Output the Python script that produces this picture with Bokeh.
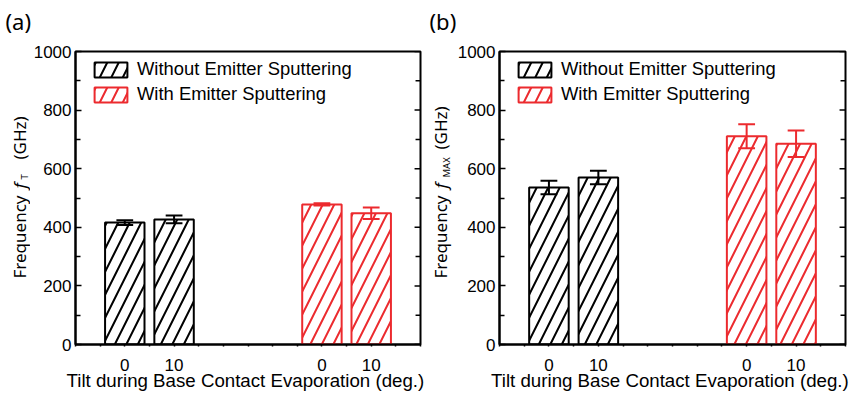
import math
from bokeh.plotting import figure
from bokeh.models import (LinearAxis, FixedTicker, Label, Range1d, Legend,
                          LegendItem, ColumnDataSource)
from bokeh.layouts import row, column
from bokeh.embed import file_html
from bokeh.resources import INLINE

# ---------------- data ----------------
tilt_labels = ["0", "10"]
pos_without = [1, 2]
pos_with = [5, 6]
y_ticks = [0, 200, 400, 600, 800, 1000]
y_minor = [100, 300, 500, 700, 900]
series_names = ["Without Emitter Sputtering", "With Emitter Sputtering"]
x_title = "Tilt during Base Contact Evaporation  (deg.)"
panel_letters = ["(a)", "(b)"]

ft_without = [416, 427]
ft_without_err = [8, 13]
ft_with = [478, 448]
ft_with_err = [4, 20]

fmax_without = [536, 570]
fmax_without_err = [23, 23]
fmax_with = [711, 685]
fmax_with_err = [41, 45]

BLACK = "#000000"
RED = "#EC2A2E"
TICK_FONT = "Liberation Sans"
LABEL_FONT = "Noto Sans"

X0, X1 = 0, 7
Y0, Y1 = 0, 1000
W_TOTAL = 855
STRIP_H = 40
H = 399 - STRIP_H
TOP, BOTTOM = 11, 55
FRAME_H = H - TOP - BOTTOM


def bare_fig(width, height):
    q = figure(width=width, height=height, output_backend="svg", toolbar_location=None,
               title=None, x_range=Range1d(0, width), y_range=Range1d(0, height),
               min_border_left=0, min_border_right=0, min_border_top=0, min_border_bottom=0,
               x_axis_location=None, y_axis_location=None)
    if "frame_align" in q.properties():
        q.frame_align = False
    q.grid.visible = False
    q.outline_line_color = None
    q.background_fill_color = "white"
    q.border_fill_color = "white"
    return q


def make_panel(wo, wo_err, wi, wi_err, width, bl, br):
    p = figure(width=width, height=H, output_backend="svg", toolbar_location=None,
               title=None, x_range=Range1d(X0, X1), y_range=Range1d(Y0, Y1),
               min_border_left=bl, min_border_right=br,
               min_border_top=TOP, min_border_bottom=BOTTOM,
               x_axis_location=None, y_axis_location=None)
    p.grid.visible = False
    p.outline_line_color = "black"
    p.outline_line_width = 2
    p.background_fill_color = "white"
    p.border_fill_color = "white"
    fw = width - bl - br

    left = LinearAxis(ticker=FixedTicker(ticks=y_ticks, minor_ticks=y_minor))
    bottom = LinearAxis(ticker=FixedTicker(ticks=pos_without + pos_with,
                                           minor_ticks=[i * 0.5 for i in range(0, 15)]))
    for ax in (left, bottom):
        ax.axis_line_width = 2
        ax.major_tick_line_width = 1.5
        ax.minor_tick_line_width = 1.5
        ax.major_label_text_font = TICK_FONT
        ax.major_label_text_font_size = "17px"
        ax.major_label_text_color = "black"
    left.major_tick_in = 6
    left.major_tick_out = 0
    left.minor_tick_in = 5
    left.minor_tick_out = 0
    left.major_label_standoff = 4
    bottom.major_tick_in = 0
    bottom.major_tick_out = 0
    bottom.minor_tick_in = 0
    bottom.minor_tick_out = 2
    bottom.major_label_standoff = 12
    overrides = {pos: lab for pos, lab in zip(pos_without, tilt_labels)}
    overrides.update({pos: lab for pos, lab in zip(pos_with, tilt_labels)})
    bottom.major_label_overrides = overrides
    bottom.axis_label = x_title
    bottom.axis_label_text_font = TICK_FONT
    bottom.axis_label_text_font_size = "18.7px"
    bottom.axis_label_text_font_style = "normal"
    bottom.axis_label_text_color = "black"
    bottom.axis_label_standoff = -4
    p.add_layout(left, "left")
    p.add_layout(bottom, "below")

    # inward ticks on the right frame edge
    tick_len = (X1 - X0) * 6 / fw
    minor_len = (X1 - X0) * 5 / fw
    p.segment(x0=[X1] * len(y_ticks), y0=y_ticks, x1=[X1 - tick_len] * len(y_ticks), y1=y_ticks,
              line_color="black", line_width=1.5)
    p.segment(x0=[X1] * len(y_minor), y0=y_minor, x1=[X1 - minor_len] * len(y_minor), y1=y_minor,
              line_color="black", line_width=1.5)

    items = []
    for pos, vals, errs, col, name in ((pos_without, wo, wo_err, BLACK, series_names[0]),
                                        (pos_with, wi, wi_err, RED, series_names[1])):
        src = ColumnDataSource(dict(
            x=pos, top=vals,
            lo=[v - e for v, e in zip(vals, errs)],
            hi=[v + e for v, e in zip(vals, errs)],
            xl=[x - 0.17 for x in pos], xr=[x + 0.17 for x in pos]))
        r = p.vbar(x="x", top="top", width=0.8, source=src,
                   fill_color="white", fill_alpha=0,
                   line_color=col, line_width=2,
                   hatch_pattern="/", hatch_color=col, hatch_scale=23, hatch_weight=2)
        p.segment(x0="x", y0="lo", x1="x", y1="hi", source=src, line_color=col, line_width=2)
        p.segment(x0="xl", y0="hi", x1="xr", y1="hi", source=src, line_color=col, line_width=2)
        p.segment(x0="xl", y0="lo", x1="xr", y1="lo", source=src, line_color=col, line_width=2)
        items.append(LegendItem(label=name, renderers=[r]))

    legend = Legend(items=items, location=(15, FRAME_H - 10 - 44), padding=0, margin=0, spacing=3,
                    glyph_width=41, glyph_height=19, label_standoff=6,
                    label_text_font=TICK_FONT, label_text_font_size="18.4px",
                    label_text_color="black",
                    border_line_color=None, background_fill_alpha=0)
    p.add_layout(legend, "center")
    return p


def ylabel_fig(width, sub, main_x, sub_x, anchors):
    """Rotated y-axis title 'Frequency f_sub (GHz)'; anchors are page y positions."""
    q = bare_fig(width, H)
    ang = math.pi / 2
    pieces = [("Frequency", main_x, "17px", "normal"),
              ("f", main_x, "17px", "italic"),
              (sub, sub_x, "9.5px", "normal"),
              ("(GHz)", main_x, "17px", "normal")]
    for (txt, x, size, style), page_y in zip(pieces, anchors):
        q.add_layout(Label(x=x, y=399 - page_y, angle=ang, text=txt, text_font=LABEL_FONT,
                           text_font_size=size, text_font_style=style,
                           text_baseline="middle", text_align="left",
                           text_color="black"))
    return q


strip = bare_fig(W_TOTAL, STRIP_H)
for letter, lx in zip(panel_letters, [5, 429]):
    strip.add_layout(Label(x=lx, y=STRIP_H - 20.5, text=letter, text_font=LABEL_FONT,
                           text_font_size="22px", text_baseline="middle", text_align="left",
                           text_color="black"))

la = ylabel_fig(30, "T", 19, 24, [278, 188, 179, 159])
pa = make_panel(ft_without, ft_without_err, ft_with, ft_with_err, 397, 42, 7)
lb = ylabel_fig(27, "MAX", 13, 18.5, [278, 188, 177, 149])
pb = make_panel(fmax_without, fmax_without_err, fmax_with, fmax_with_err, 401, 42, 10)

layout = column(strip, row(la, pa, lb, pb))
open("out.html", "w").write(file_html(layout, INLINE))
